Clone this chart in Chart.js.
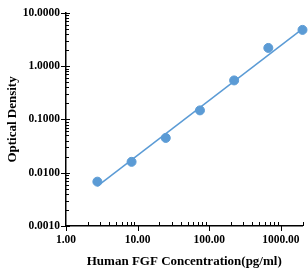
<!DOCTYPE html>
<html lang="en">
<head>
    <meta charset="UTF-8" />
    <title>Standard Curve</title>
    <style>
        * { margin: 0; padding: 0; }
        body { background: #fff; }
        .chartBox { width: 308px; height: 269px; }
    </style>
</head>
<body>
    <div class="chartBox">
        <canvas id="myChart"></canvas>
    </div>
    <script src="https://cdn.jsdelivr.net/npm/chart.js@4.4.0/dist/chart.umd.min.js"></script>
    <script>
        const concentrations = [2.74, 8.23, 24.69, 74.07, 222.2, 666.7, 2000];
        const odValues = [0.0068, 0.0160, 0.0450, 0.148, 0.54, 2.20, 4.8];
        const fitX = [2.74, 2000];
        const fitY = [0.0056, 5.0];
        const xTicks = [1, 10, 100, 1000];
        const yTicks = [0.001, 0.01, 0.1, 1, 10];

        const blue = "#5b9bd5";
        const serif = "'Liberation Serif', 'Times New Roman', serif";

        // tick marks: majors out, minors in
        const tickMarks = {
            id: "tickMarks",
            afterDraw(chart) {
                const ctx = chart.ctx;
                const xs = chart.scales.x, ys = chart.scales.y;
                const area = chart.chartArea;
                ctx.save();
                ctx.strokeStyle = "#000";
                ctx.lineWidth = 1;
                ctx.beginPath();
                for (let d = 1; d <= 1000; d *= 10) {
                    for (let m = 1; m < 10; m++) {
                        const v = d * m;
                        if (v > xs.max) break;
                        const px = Math.round(xs.getPixelForValue(v)) + 0.5;
                        if (m === 1) {
                            ctx.moveTo(px, area.bottom);
                            ctx.lineTo(px, area.bottom + 5);
                        } else {
                            ctx.moveTo(px, area.bottom);
                            ctx.lineTo(px, area.bottom - 4);
                        }
                    }
                }
                for (let d = 0.001; d <= 10; d *= 10) {
                    for (let m = 1; m < 10; m++) {
                        const v = d * m;
                        if (v > ys.max * 1.0001) break;
                        const py = Math.round(ys.getPixelForValue(v)) + 0.5;
                        if (m === 1) {
                            ctx.moveTo(area.left - 5, py);
                            ctx.lineTo(area.left + 4, py);
                        } else {
                            ctx.moveTo(area.left, py);
                            ctx.lineTo(area.left + 3, py);
                        }
                    }
                }
                ctx.stroke();
                ctx.restore();
            }
        };

        const data = {
            datasets: [
                {
                    type: "scatter",
                    label: "OD",
                    data: concentrations.map((c, i) => ({ x: c, y: odValues[i] })),
                    backgroundColor: blue,
                    borderColor: blue,
                    pointRadius: 4.5,
                    pointHoverRadius: 4.5,
                    clip: false,
                    order: 1,
                },
                {
                    type: "line",
                    label: "Fit",
                    data: fitX.map((c, i) => ({ x: c, y: fitY[i] })),
                    borderColor: blue,
                    borderWidth: 1.5,
                    pointRadius: 0,
                    fill: false,
                    order: 2,
                },
            ],
        };

        const options = {
            responsive: true,
            maintainAspectRatio: false,
            animation: false,
            layout: { padding: { top: 11, right: 0, left: 0, bottom: 0 } },
            scales: {
                x: {
                    type: "logarithmic",
                    min: 1,
                    max: 2000,
                    afterBuildTicks: (scale) => {
                        scale.ticks = xTicks.map((v) => ({ value: v }));
                    },
                    afterFit: (scale) => {
                        scale.height = 43;
                        scale.paddingRight = 0;
                        scale.paddingLeft = 0;
                    },
                    grid: { display: false, drawTicks: false },
                    border: { display: true, color: "#000", width: 1.5 },
                    ticks: {
                        color: "#000",
                        padding: 7,
                        maxRotation: 0,
                        autoSkip: false,
                        font: { family: serif, size: 11.5, weight: "bold" },
                        callback: (v) => Number(v).toFixed(2),
                    },
                    title: {
                        display: true,
                        text: "Human FGF Concentration(pg/ml)",
                        color: "#000",
                        padding: { top: 0, bottom: 0 },
                        font: { family: serif, size: 13, weight: "bold" },
                    },
                },
                y: {
                    type: "logarithmic",
                    min: 0.001,
                    max: 10,
                    afterBuildTicks: (scale) => {
                        scale.ticks = yTicks.map((v) => ({ value: v }));
                    },
                    afterFit: (scale) => {
                        scale.width = 66;
                    },
                    grid: { display: false, drawTicks: false },
                    border: { display: true, color: "#000", width: 1.5 },
                    ticks: {
                        color: "#000",
                        padding: 6,
                        autoSkip: false,
                        font: { family: serif, size: 11.5, weight: "bold" },
                        callback: (v) => Number(v).toFixed(4),
                    },
                    title: {
                        display: true,
                        text: "Optical Density",
                        color: "#000",
                        padding: { top: 5, bottom: 0 },
                        font: { family: serif, size: 13, weight: "bold" },
                    },
                },
            },
            plugins: {
                legend: { display: false },
                tooltip: { enabled: false },
            },
        };

        const ctx = document.getElementById("myChart").getContext("2d");
        const myChart = new Chart(ctx, {
            type: "scatter",
            data: data,
            options: options,
            plugins: [tickMarks],
        });
    </script>
</body>
</html>
